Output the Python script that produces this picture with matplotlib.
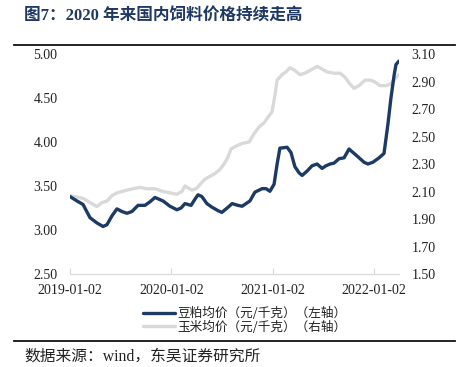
import numpy as np
import pandas as pd
import matplotlib
matplotlib.use("Agg")
import matplotlib.pyplot as plt

# 豆粕均价（左轴）
soy_dates = ["2019-01-02", "2019-01-27", "2019-02-18", "2019-03-15", "2019-04-09",
             "2019-05-01", "2019-05-15", "2019-06-02", "2019-06-20", "2019-07-08",
             "2019-07-26", "2019-08-13", "2019-09-04", "2019-09-29", "2019-10-17",
             "2019-11-04", "2019-12-03", "2019-12-28", "2020-01-22", "2020-02-06",
             "2020-02-20", "2020-03-13", "2020-03-27", "2020-04-07", "2020-04-21",
             "2020-05-09", "2020-05-27", "2020-06-18", "2020-07-02", "2020-07-21",
             "2020-08-08", "2020-08-29", "2020-09-13", "2020-09-27", "2020-10-11",
             "2020-10-29", "2020-11-24", "2020-12-08", "2020-12-22", "2021-01-06",
             "2021-01-17", "2021-01-27", "2021-02-22", "2021-03-08", "2021-03-22",
             "2021-04-06", "2021-04-17", "2021-05-05", "2021-05-23", "2021-06-10",
             "2021-06-28", "2021-07-12", "2021-07-27", "2021-08-10", "2021-08-28",
             "2021-09-15", "2021-10-03", "2021-10-25", "2021-11-12", "2021-11-26",
             "2021-12-10", "2021-12-28", "2022-01-19", "2022-02-06", "2022-02-20",
             "2022-03-03", "2022-03-14", "2022-03-21", "2022-04-01"]
soy_price = [3.38, 3.33, 3.29, 3.14, 3.08,
             3.04, 3.06, 3.16, 3.24, 3.21,
             3.19, 3.21, 3.28, 3.28, 3.32,
             3.37, 3.33, 3.27, 3.23, 3.25,
             3.30, 3.28, 3.35, 3.40, 3.38,
             3.30, 3.26, 3.22, 3.20, 3.25,
             3.30, 3.28, 3.27, 3.30, 3.33,
             3.43, 3.47, 3.47, 3.44, 3.52,
             3.75, 3.93, 3.94, 3.88, 3.72,
             3.65, 3.62, 3.67, 3.73, 3.75,
             3.70, 3.73, 3.75, 3.76, 3.81,
             3.82, 3.92, 3.86, 3.81, 3.77,
             3.75, 3.77, 3.82, 3.87, 4.20,
             4.50, 4.75, 4.88, 4.92]

# 玉米均价（右轴）
corn_dates = ["2019-01-02", "2019-01-27", "2019-02-18", "2019-03-15", "2019-04-09",
              "2019-04-27", "2019-05-15", "2019-06-02", "2019-06-20", "2019-07-08",
              "2019-07-26", "2019-08-17", "2019-09-11", "2019-10-06", "2019-11-04",
              "2019-12-03", "2019-12-28", "2020-01-22", "2020-02-09", "2020-02-20",
              "2020-03-16", "2020-03-31", "2020-04-14", "2020-05-02", "2020-05-20",
              "2020-06-07", "2020-06-25", "2020-07-10", "2020-07-24", "2020-08-04",
              "2020-08-22", "2020-09-13", "2020-10-08", "2020-10-26", "2020-11-13",
              "2020-12-01", "2020-12-15", "2020-12-30", "2021-01-09", "2021-01-17",
              "2021-02-04", "2021-02-18", "2021-03-04", "2021-03-22", "2021-04-09",
              "2021-04-27", "2021-05-15", "2021-06-10", "2021-06-28", "2021-07-16",
              "2021-08-10", "2021-09-01", "2021-09-19", "2021-10-03", "2021-10-21",
              "2021-11-08", "2021-11-30", "2021-12-18", "2022-01-01", "2022-01-23",
              "2022-02-13", "2022-02-28", "2022-03-18", "2022-04-01"]
corn_price = [2.07, 2.06, 2.05, 2.02, 1.99,
              2.02, 2.03, 2.07, 2.09, 2.10,
              2.11, 2.12, 2.13, 2.12, 2.12,
              2.10, 2.09, 2.08, 2.10, 2.14,
              2.11, 2.12, 2.15, 2.19, 2.21,
              2.23, 2.26, 2.30, 2.35, 2.41,
              2.43, 2.45, 2.46, 2.52, 2.57,
              2.60, 2.64, 2.68, 2.80, 2.91,
              2.95, 2.97, 3.00, 2.98, 2.95,
              2.96, 2.98, 3.01, 2.99, 2.97,
              2.96, 2.96, 2.93, 2.89, 2.85,
              2.87, 2.91, 2.91, 2.90, 2.87,
              2.87, 2.88, 2.92, 2.95]

tick_labels = ["2019-01-02", "2020-01-02", "2021-01-02", "2022-01-02"]

soy_label = "豆粕均价（元/千克）（左轴）"
corn_label = "玉米均价（元/千克）（右轴）"
title = "图7：2020 年来国内饲料价格持续走高"
source = "数据来源：wind，东吴证券研究所"

navy = "#1c3a64"
grey = "#d9d9d9"
serif = ["Liberation Serif", "DejaVu Serif"]
mixed = ["Liberation Serif", "Noto Sans CJK SC", "DejaVu Sans"]
cjk = ["Noto Sans CJK SC", "DejaVu Sans"]

W, H = 464, 367
fig = plt.figure(figsize=(W / 100, H / 100), dpi=100)

# axes box in pixel units
left, right, top, bottom = 70, 399, 54, 274
ax = fig.add_axes([left / W, 1 - bottom / H, (right - left) / W, (bottom - top) / H])
ax2 = ax.twinx()

soy_x = pd.to_datetime(soy_dates)
corn_x = pd.to_datetime(corn_dates)

l2, = ax2.plot(corn_x, corn_price, color=grey, lw=2.4, solid_capstyle="round", label=corn_label)
l1, = ax.plot(soy_x, soy_price, color=navy, lw=2.4, solid_capstyle="round", label=soy_label)
ax.set_zorder(ax2.get_zorder() + 1)
ax.patch.set_visible(False)

ax.set_xlim(pd.Timestamp("2019-01-02"), pd.Timestamp("2022-04-01"))
ax.set_ylim(2.5, 5.0)
ax2.set_ylim(1.5, 3.1)
ax.set_yticks(np.arange(2.5, 5.01, 0.5))
ax2.set_yticks(np.arange(1.5, 3.11, 0.2))
ax.yaxis.set_major_formatter(matplotlib.ticker.FormatStrFormatter("%.2f"))
ax2.yaxis.set_major_formatter(matplotlib.ticker.FormatStrFormatter("%.2f"))

ax.set_xticks(pd.to_datetime(tick_labels))
ax.set_xticklabels(tick_labels)

for a in (ax, ax2):
    for s in ("top", "left", "right"):
        a.spines[s].set_visible(False)
    a.spines["bottom"].set_color("#d9d9d9")
    a.spines["bottom"].set_linewidth(0.8)
ax2.spines["bottom"].set_visible(False)

ax.tick_params(axis="y", length=0, pad=9, labelsize=10, labelcolor="#222222")
ax2.tick_params(axis="y", length=0, pad=9, labelsize=10, labelcolor="#222222")
ax.tick_params(axis="x", direction="in", length=4, color="#d9d9d9", pad=7,
               labelsize=10, labelcolor="#222222")
for lab in ax.get_yticklabels() + ax2.get_yticklabels() + ax.get_xticklabels():
    lab.set_family(serif)

leg = fig.legend(handles=[l1, l2], loc="upper left", bbox_to_anchor=(138 / W, 1 - 302 / H),
                 frameon=False, prop={"family": cjk, "size": 9.1},
                 handlelength=2.5, handletextpad=0.2, labelspacing=0.02, borderaxespad=0)
for t in leg.get_texts():
    t.set_color("#222222")

fig.text(24 / W, 1 - 17 / H, title, family=mixed,
         fontsize=12, fontweight="bold", color="#1f3864", va="center", ha="left")
fig.add_artist(plt.Line2D([14 / W, 455 / W], [1 - 45 / H] * 2, color="#111111", lw=1.3))
fig.add_artist(plt.Line2D([14 / W, 455 / W], [1 - 341 / H] * 2, color="#111111", lw=1.3))
fig.text(24 / W, 1 - 357 / H, source, family=mixed, fontsize=11.3, color="#222222",
         va="center", ha="left")

fig.savefig("out.png", dpi=100)
